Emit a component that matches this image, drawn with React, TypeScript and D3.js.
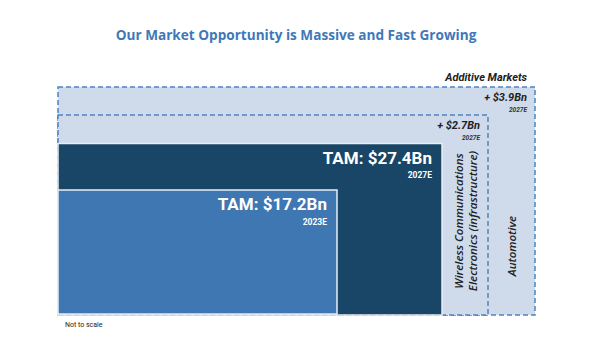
import React from "react";
import * as d3 from "d3";

const W = 604;
const H = 353;

// TAM bars
const tamLabels = ["TAM: $17.2Bn", "TAM: $27.4Bn"];
const tamYears = ["2023E", "2027E"];
const tamValues = [17.2, 27.4];

// Additive markets
const addLabels = ["+ $2.7Bn", "+ $3.9Bn"];
const addYears = ["2027E", "2027E"];
const addNames = [["Wireless Communications", "Electronics (infrastructure)"], ["Automotive"]];

export default function App() {
  // "Not to scale" nested boxes: ordinal scales map rank to box edges
  const xRight = d3.scaleOrdinal<number, number>().domain([0, 1, 2, 3]).range([337, 442, 488, 535]);
  const yTop = d3.scaleOrdinal<number, number>().domain([0, 1, 2, 3]).range([190, 143.5, 115, 87]);
  const x0 = 58;
  const y1 = 315;
  const light = "#cfdbeb";
  const dash = "#4d84c4";

  return (
    <svg width={W} height={H} style={{ position: "absolute", left: 0, top: 0 }}>
      <rect width={W} height={H} fill="#fff" />
      <text x={296} y={40} textAnchor="middle" fontFamily="Open Sans" fontWeight={700} fontSize={13.6} fill="#3f78b8">
        Our Market Opportunity is Massive and Fast Growing
      </text>
      {[1, 0].map((i) => (
        <rect key={"a" + i} x={x0} y={yTop(i + 2)} width={xRight(i + 2) - x0} height={y1 - yTop(i + 2)}
          fill={light} stroke={dash} strokeWidth={1.5} strokeDasharray="5,3" />
      ))}
      <rect x={x0} y={yTop(1)} width={xRight(1) - x0} height={y1 - yTop(1)} fill="#194667" stroke="#e9eef5" strokeWidth={1.5} />
      <rect x={x0} y={yTop(0)} width={xRight(0) - x0} height={y1 - 1 - yTop(0)} fill="#3e77b1" stroke="#e9eef5" strokeWidth={1.5} />
      {tamValues.map((v, i) => (
        <g key={"t" + v}>
          <text x={xRight(i) - 10} y={yTop(i) + 20} textAnchor="end" fontFamily="Roboto" fontWeight={700} fontSize={17} fill="#fff">
            {tamLabels[i]}
          </text>
          <text x={xRight(i) - 10} y={yTop(i) + 34.5} textAnchor="end" fontFamily="Roboto" fontWeight={700} fontSize={8.5} fill="#fff">
            {tamYears[i]}
          </text>
        </g>
      ))}
      <text x={527} y={81} textAnchor="end" fontFamily="Roboto" fontStyle="italic" fontWeight={700} fontSize={11} fill="#222">
        Additive Markets
      </text>
      {addLabels.map((l, i) => (
        <g key={"l" + i}>
          <text x={xRight(i + 2) - 8} y={yTop(i + 2) + 14} textAnchor="end" fontFamily="Roboto" fontStyle="italic" fontWeight={700} fontSize={11} fill="#222">
            {l}
          </text>
          <text x={xRight(i + 2) - 8} y={yTop(i + 2) + 25} textAnchor="end" fontFamily="Roboto" fontStyle="italic" fontWeight={700} fontSize={6.5} fill="#333">
            {addYears[i]}
          </text>
        </g>
      ))}
      {addNames.map((lines, i) => {
        const cx = (xRight(i + 1) + xRight(i + 2)) / 2;
        const cy = i === 0 ? 221 : 246;
        return (
          <text key={"n" + i} transform={`translate(${cx},${cy}) rotate(-90)`} textAnchor="middle"
            fontFamily="Open Sans" fontStyle="italic" fontWeight={600} fontSize={11.5} fill="#222">
            {lines.map((t, j) => (
              <tspan key={j} x={0} dy={j === 0 ? (lines.length === 1 ? 4 : -2.5) : 14}>{t}</tspan>
            ))}
          </text>
        );
      })}
      <text x={65} y={327} fontFamily="Roboto" fontSize={7} fill="#222">Not to scale</text>
    </svg>
  );
}
